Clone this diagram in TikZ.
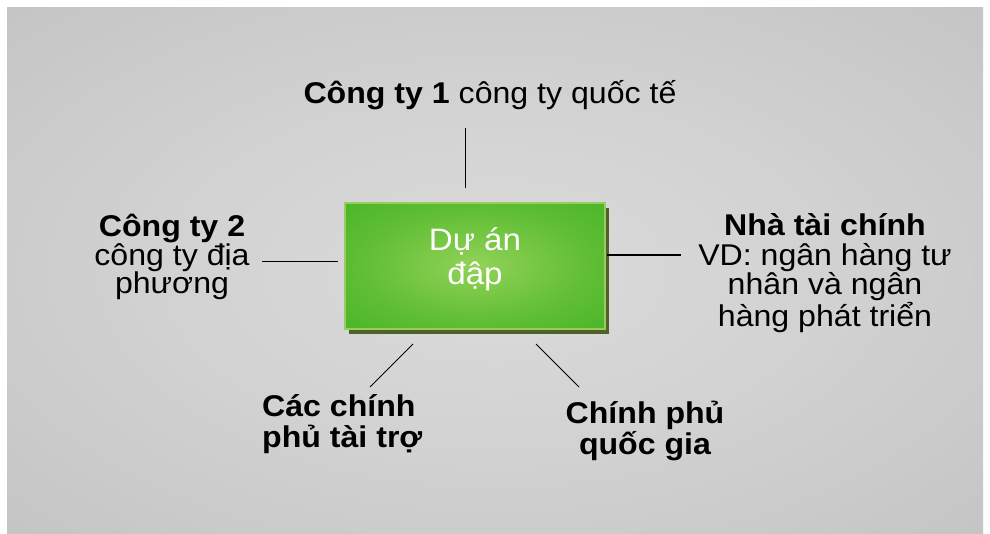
\documentclass[tikz,border=0pt]{standalone}
\usepackage{fontspec}
\setmainfont{Liberation Sans}[FakeStretch=1.07]
\usetikzlibrary{shadows}
\definecolor{bgA}{gray}{0.86}
\definecolor{bgB}{gray}{0.82}
\definecolor{bgC}{gray}{0.73}
\definecolor{bgD}{gray}{0.68}
\definecolor{gLight}{RGB}{146,210,88}
\definecolor{gMid}{RGB}{96,190,52}
\definecolor{gEdge}{RGB}{60,176,32}
\definecolor{gBorder}{RGB}{155,203,95}
\definecolor{gShadow}{RGB}{79,98,40}
\pgfdeclareradialshading{bgshade}{\pgfpoint{0bp}{0bp}}{color(0bp)=(bgA); color(18bp)=(bgB); color(50bp)=(bgC); color(72bp)=(bgD)}
\pgfdeclareradialshading{greenshade}{\pgfpoint{0bp}{0bp}}{color(0bp)=(gLight); color(22bp)=(gMid); color(45bp)=(gEdge); color(72bp)=(gEdge)}
\tikzset{
  lbl/.style={font=\fontsize{30}{28.5}\selectfont, align=center, inner sep=0pt, text=black},
  conn/.style={draw=black, line width=1pt},
  boxnode/.style={rectangle, minimum width=260pt, minimum height=126pt, inner sep=0pt,
    shading=greenshade, draw=gBorder, line width=2pt,
    drop shadow={shadow xshift=4pt, shadow yshift=-5pt, fill=gShadow, opacity=1}},
  boxtext/.style={font=\fontsize{31}{34}\selectfont, text=white, align=center, inner sep=0pt}
}
\begin{document}
\begin{tikzpicture}[x=1pt,y=-1pt]
\useasboundingbox (0,0) rectangle (990,534);
\fill[white] (0,0) rectangle (990,534);
\shade[shading=bgshade] (7,8) rectangle (983,534);

\node[boxnode] (box) at (475,266) {};
\node[boxtext] (boxlbl) at (475,259) {Dự án\\đập};

\node[lbl, anchor=base] (c1) at (490,104) {\textbf{Công ty 1} công ty quốc tế};
\node[lbl] (c2) at (172,257) {\textbf{Công ty 2}\\công ty địa\\phương};
\node[lbl, font=\fontsize{30}{29.5}\selectfont] (fin) at (825,273) {\textbf{Nhà tài chính}\\VD: ngân hàng tư\\nhân và ngân\\hàng phát triển};
\node[lbl, align=left, anchor=west, font=\fontsize{30}{31}\selectfont\bfseries] (don) at (262,424) {Các chính\\phủ tài trợ};
\node[lbl, font=\fontsize{30}{31}\selectfont\bfseries] (gov) at (645,431) {Chính phủ\\quốc gia};

\coordinate (t1) at (465,128);
\coordinate (t2) at (465,188);
\coordinate (l1) at (262,262);
\coordinate (l2) at (338,262);
\coordinate (r1) at (607,255);
\coordinate (r2) at (681,255);
\coordinate (bl1) at (413,344);
\coordinate (bl2) at (370,387);
\coordinate (br1) at (536,344);
\coordinate (br2) at (579,387);

\draw[conn] (t1) -- (t2);
\draw[conn] (l1) -- (l2);
\draw[conn, line width=2.5pt] (r1) -- (r2);
\draw[conn] (bl1) -- (bl2);
\draw[conn] (br1) -- (br2);
\end{tikzpicture}
\end{document}
